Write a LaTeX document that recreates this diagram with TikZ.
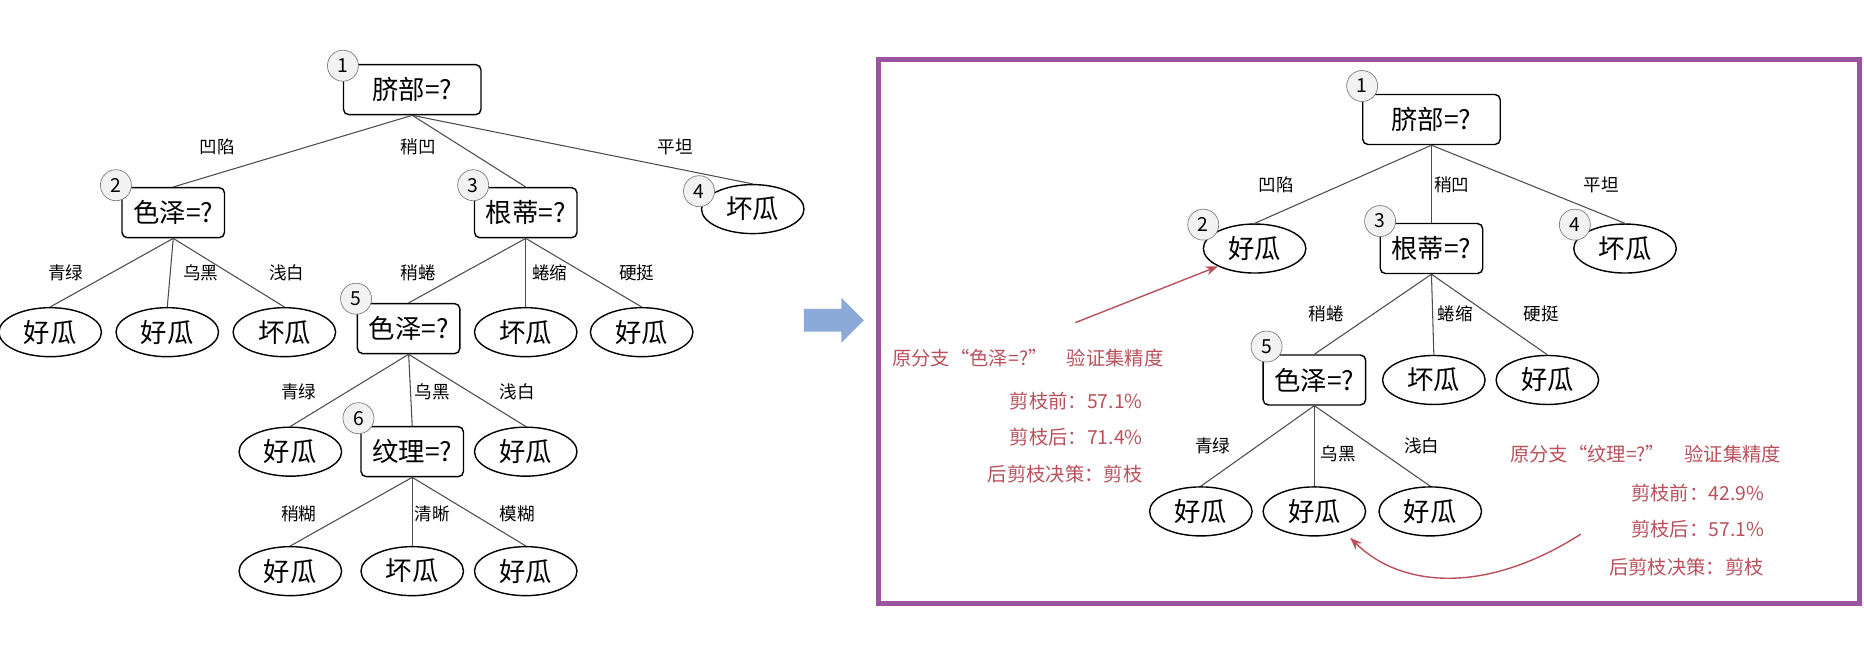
\documentclass[tikz,border=0pt]{standalone}
\usepackage{fontspec}
\setmainfont{Noto Sans CJK SC}
\usetikzlibrary{shapes.geometric,shapes.arrows,arrows.meta}
\definecolor{purp}{RGB}{155,85,160}
\definecolor{arrb}{RGB}{140,170,215}
\definecolor{annc}{RGB}{185,80,90}
\begin{document}
\begin{tikzpicture}[x=0.0239cm,y=-0.0239cm,
 q/.style={draw,rounded corners=3pt,line width=0.8pt,minimum width=2.05cm,minimum height=1.0cm,font=\fontsize{15}{18}\selectfont,inner sep=2pt},
 root/.style={q,minimum width=2.75cm},
 leaf/.style={draw,ellipse,line width=0.8pt,minimum width=2.05cm,minimum height=0.98cm,font=\fontsize{15}{18}\selectfont,inner sep=1pt},
 num/.style={draw=gray,fill=gray!10,circle,minimum size=0.62cm,inner sep=0pt,font=\fontsize{11}{12}\selectfont},
 lab/.style={font=\fontsize{10}{12}\selectfont},
 ann/.style={text=annc,font=\fontsize{11}{13}\selectfont,inner sep=1pt},
 ed/.style={draw=black!70,line width=0.6pt}]
\useasboundingbox (0,0) rectangle (1560,558);
% ---- left tree ----
\node[root] (a1) at (345,75) {脐部=?};
\node[q] (a2) at (145,178) {色泽=?};
\node[q] (a3) at (440,178) {根蒂=?};
\node[leaf] (a4) at (630,175) {坏瓜};
\node[leaf] (a21) at (42,278) {好瓜};
\node[leaf] (a22) at (140,278) {好瓜};
\node[leaf] (a23) at (238,278) {坏瓜};
\node[q] (a5) at (342,275) {色泽=?};
\node[leaf] (a32) at (440,278) {坏瓜};
\node[leaf] (a33) at (537,278) {好瓜};
\node[leaf] (a51) at (243,378) {好瓜};
\node[q] (a6) at (345,378) {纹理=?};
\node[leaf] (a53) at (440,378) {好瓜};
\node[leaf] (a61) at (243,478) {好瓜};
\node[leaf] (a62) at (345,478) {坏瓜};
\node[leaf] (a63) at (440,478) {好瓜};
\foreach \p/\c in {a1/a2,a1/a3,a1/a4,a2/a21,a2/a22,a2/a23,a3/a5,a3/a32,a3/a33,a5/a51,a5/a6,a5/a53,a6/a61,a6/a62,a6/a63}
  \draw[ed] (\p.south) -- (\c.north);
\node[num] (c1) at (287,55) {1};
\node[num] (c2) at (97,155) {2};
\node[num] (c3) at (396,155) {3};
\node[num] (c4) at (585,160) {4};
\node[num] (c5) at (298,250) {5};
\node[num] (c6) at (300,350) {6};
\node[lab] (l1) at (182,123) {凹陷};
\node[lab] (l2) at (350,123) {稍凹};
\node[lab] (l3) at (565,123) {平坦};
\node[lab] (l4) at (55,228) {青绿};
\node[lab] (l5) at (168,228) {乌黑};
\node[lab] (l6) at (240,228) {浅白};
\node[lab] (l7) at (350,228) {稍蜷};
\node[lab] (l8) at (460,228) {蜷缩};
\node[lab] (l9) at (533,228) {硬挺};
\node[lab] (l10) at (250,328) {青绿};
\node[lab] (l11) at (362,328) {乌黑};
\node[lab] (l12) at (433,328) {浅白};
\node[lab] (l13) at (250,430) {稍糊};
\node[lab] (l14) at (362,430) {清晰};
\node[lab] (l15) at (433,430) {模糊};
% ---- arrow ----
\node[single arrow,fill=arrb,draw=none,minimum height=1.2cm,minimum width=0.9cm,single arrow head extend=0.12cm] (bar) at (693,268) {};
% ---- right panel ----
\draw[draw=purp,line width=3pt] (735,50) rectangle (1556,505);
\node[root] (b1) at (1198,100) {脐部=?};
\node[leaf] (b2) at (1050,208) {好瓜};
\node[q] (b3) at (1198,208) {根蒂=?};
\node[leaf] (b4) at (1360,208) {坏瓜};
\node[q] (b5) at (1100,318) {色泽=?};
\node[leaf] (b32) at (1200,318) {坏瓜};
\node[leaf] (b33) at (1295,318) {好瓜};
\node[leaf] (b51) at (1005,428) {好瓜};
\node[leaf] (b52) at (1100,428) {好瓜};
\node[leaf] (b53) at (1197,428) {好瓜};
\foreach \p/\c in {b1/b2,b1/b3,b1/b4,b3/b5,b3/b32,b3/b33,b5/b51,b5/b52,b5/b53}
  \draw[ed] (\p.south) -- (\c.north);
\node[num] (d1) at (1140,72) {1};
\node[num] (d2) at (1007,188) {2};
\node[num] (d3) at (1155,185) {3};
\node[num] (d4) at (1318,188) {4};
\node[num] (d5) at (1060,290) {5};
\node[lab] (m1) at (1068,155) {凹陷};
\node[lab] (m2) at (1215,155) {稍凹};
\node[lab] (m3) at (1340,155) {平坦};
\node[lab] (m4) at (1110,263) {稍蜷};
\node[lab] (m5) at (1218,263) {蜷缩};
\node[lab] (m6) at (1290,263) {硬挺};
\node[lab] (m7) at (1015,373) {青绿};
\node[lab] (m8) at (1120,380) {乌黑};
\node[lab] (m9) at (1190,373) {浅白};
% annotations
\node[ann,anchor=west] (t1) at (745,300) {原分支“色泽=?”\quad 验证集精度};
\node[ann,anchor=east] (t2) at (958,336) {剪枝前：57.1\%};
\node[ann,anchor=east] (t3) at (958,366) {剪枝后：71.4\%};
\node[ann,anchor=east] (t4) at (958,397) {后剪枝决策：剪枝};
\coordinate (s1) at (900,270);
\draw[-{Stealth[length=7pt]},draw=annc,line width=0.8pt] (s1) -- (b2.south west);
\node[ann,anchor=west] (u1) at (1262,380) {原分支“纹理=?”\quad 验证集精度};
\node[ann,anchor=east] (u2) at (1478,413) {剪枝前：42.9\%};
\node[ann,anchor=east] (u3) at (1478,443) {剪枝后：57.1\%};
\node[ann,anchor=east] (u4) at (1478,475) {后剪枝决策：剪枝};
\coordinate (s2) at (1323,447);
\draw[-{Stealth[length=7pt]},draw=annc,line width=0.8pt] (s2) .. controls (1240,500) and (1170,490) .. (1130,450);
\end{tikzpicture}
\end{document}
